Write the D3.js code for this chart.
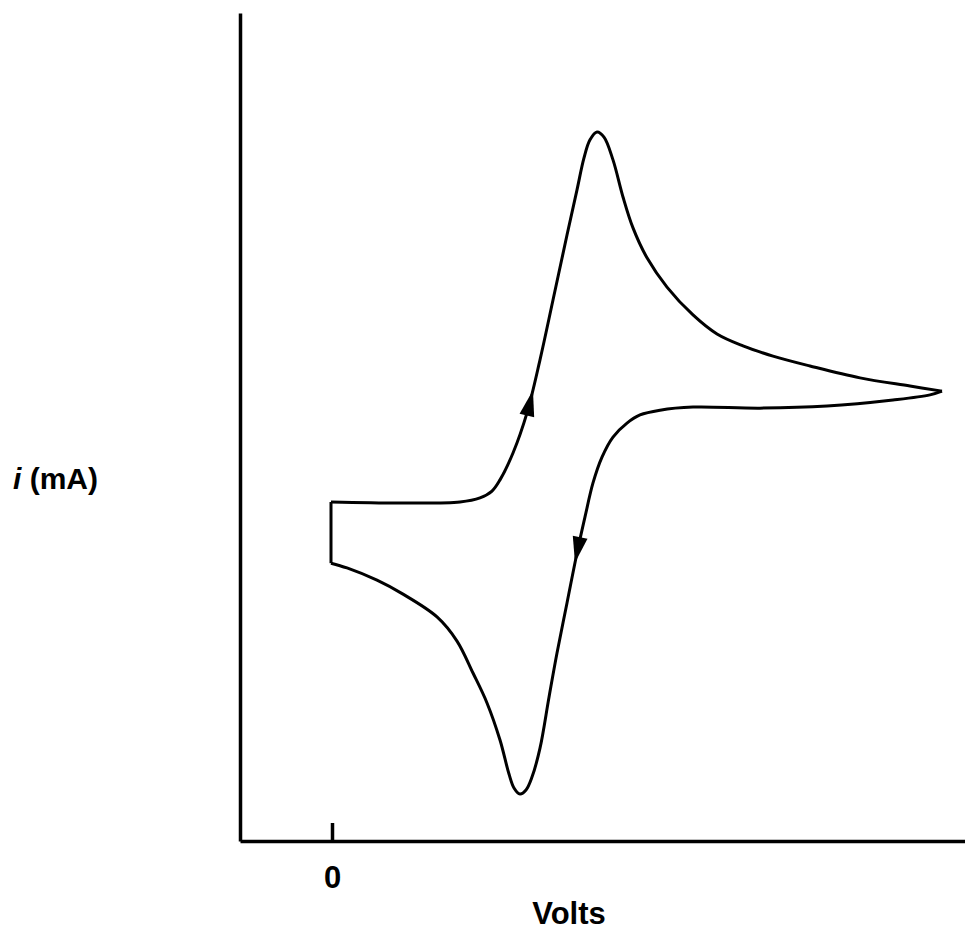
<!DOCTYPE html>
<html>
<head>
<meta charset="utf-8">
<script src="https://cdn.jsdelivr.net/npm/d3@7"></script>
<style>
  body { margin: 0; background: #fff; }
  .axis path, .axis line { stroke: #000; stroke-width: 3.5; }
  .axis text { font-family: "Liberation Sans", Arial, sans-serif; font-weight: bold; font-size: 31px; fill: #000; }
  .label { font-family: "Liberation Sans", Arial, sans-serif; font-weight: bold; fill: #000; }
</style>
</head>
<body>
<svg id="chart"></svg>
<script>
// forward (oxidation) scan, volts / mA
const forwardV = [-0.002, 0.136, 0.256, 0.296, 0.320, 0.336, 0.362, 0.390, 0.416, 0.442, 0.470, 0.490,
                  0.504, 0.516, 0.530, 0.544, 0.562, 0.582, 0.602, 0.630, 0.670, 0.722, 0.770, 0.822,
                  0.882, 0.956, 1.056, 1.156, 1.220];
const forwardI = [-0.094, -0.097, -0.094, -0.082, -0.062, -0.029, 0.050, 0.168, 0.324, 0.500, 0.691, 0.824,
                  0.918, 0.971, 0.994, 0.979, 0.912, 0.803, 0.712, 0.624, 0.538, 0.456, 0.400, 0.365,
                  0.335, 0.306, 0.271, 0.247, 0.232];
// reverse (reduction) scan
const reverseV = [1.220, 1.196, 1.122, 0.990, 0.856, 0.722, 0.656, 0.616, 0.590, 0.562, 0.540, 0.522,
                  0.506, 0.490, 0.470, 0.450, 0.434, 0.416, 0.400, 0.388, 0.376, 0.364, 0.354, 0.336,
                  0.310, 0.282, 0.250, 0.210, 0.142, 0.090, 0.030, -0.002];
const reverseI = [0.232, 0.221, 0.206, 0.188, 0.182, 0.185, 0.176, 0.162, 0.138, 0.097, 0.038, -0.038,
                  -0.138, -0.244, -0.391, -0.538, -0.668, -0.818, -0.903, -0.941, -0.953, -0.935, -0.894, -0.794,
                  -0.685, -0.597, -0.503, -0.432, -0.365, -0.324, -0.288, -0.274];
// scan direction arrows (position on each branch, in volts)
const arrowBranch = ["forward", "reverse"];
const arrowV = [0.402, 0.486];
const xTicks = [0];

const width = 965, height = 930;
const svg = d3.select("#chart").attr("width", width).attr("height", height);

const x = d3.scaleLinear().domain([-0.184, 1.266]).range([240, 965]);
const y = d3.scaleLinear().domain([-1.091, 1.344]).range([841, 13]);

const forward = forwardV.map((v, k) => ({v: v, i: forwardI[k]}));
const reverse = reverseV.map((v, k) => ({v: v, i: reverseI[k]}));

const line = d3.line()
    .x(d => x(d.v))
    .y(d => y(d.i))
    .curve(d3.curveCatmullRom.alpha(0.5));

const curveG = svg.append("g")
    .attr("fill", "none")
    .attr("stroke", "#000")
    .attr("stroke-width", 3)
    .attr("stroke-linejoin", "round");

const paths = {};
paths.forward = curveG.append("path").attr("d", line(forward));
paths.reverse = curveG.append("path").attr("d", line(reverse));
// potential step back to start
curveG.append("path")
    .attr("d", d3.line().x(d => x(d.v)).y(d => y(d.i))([reverse[reverse.length - 1], forward[0]]));

// find the point on a branch where x matches, and its direction
function pointAt(node, px) {
    const total = node.getTotalLength();
    let best = 0, bestD = Infinity;
    for (let s = 0; s <= total; s += 0.5) {
        const p = node.getPointAtLength(s);
        const d = Math.abs(p.x - px);
        if (d < bestD && p.y > 300 && p.y < 650) { bestD = d; best = s; }
    }
    const p0 = node.getPointAtLength(Math.max(best - 3, 0));
    const p1 = node.getPointAtLength(Math.min(best + 3, total));
    const tip = node.getPointAtLength(best);
    return {x: tip.x, y: tip.y, angle: Math.atan2(p1.y - p0.y, p1.x - p0.x) * 180 / Math.PI};
}

arrowBranch.forEach((b, k) => {
    const p = pointAt(paths[b].node(), x(arrowV[k]));
    svg.append("path")
        .attr("d", "M0,0L-26,-7.5L-26,7.5Z")
        .attr("fill", "#000")
        .attr("transform", `translate(${p.x},${p.y}) rotate(${p.angle})`);
});

// axes
const xAxis = d3.axisBottom(x)
    .tickValues(xTicks)
    .tickFormat(d3.format("d"))
    .tickSizeInner(-18)
    .tickSizeOuter(0)
    .tickPadding(25);

svg.append("g")
    .attr("class", "axis x-axis")
    .attr("transform", `translate(0,${y.range()[0]})`)
    .call(xAxis)
    .call(g => g.selectAll(".tick text").attr("y", 25));

const yAxis = d3.axisLeft(y).tickValues([]).tickSizeOuter(0);
svg.append("g")
    .attr("class", "axis y-axis")
    .attr("transform", `translate(${x.range()[0]},0)`)
    .call(yAxis);

// axis titles
const yLab = svg.append("text")
    .attr("class", "label")
    .attr("x", 13)
    .attr("y", 489)
    .style("font-size", "30px");
yLab.append("tspan").attr("font-style", "italic").text("i");
yLab.append("tspan").text(" (mA)");

svg.append("text")
    .attr("class", "label")
    .attr("x", 569)
    .attr("y", 924)
    .attr("text-anchor", "middle")
    .style("font-size", "31px")
    .text("Volts");
</script>
</body>
</html>
